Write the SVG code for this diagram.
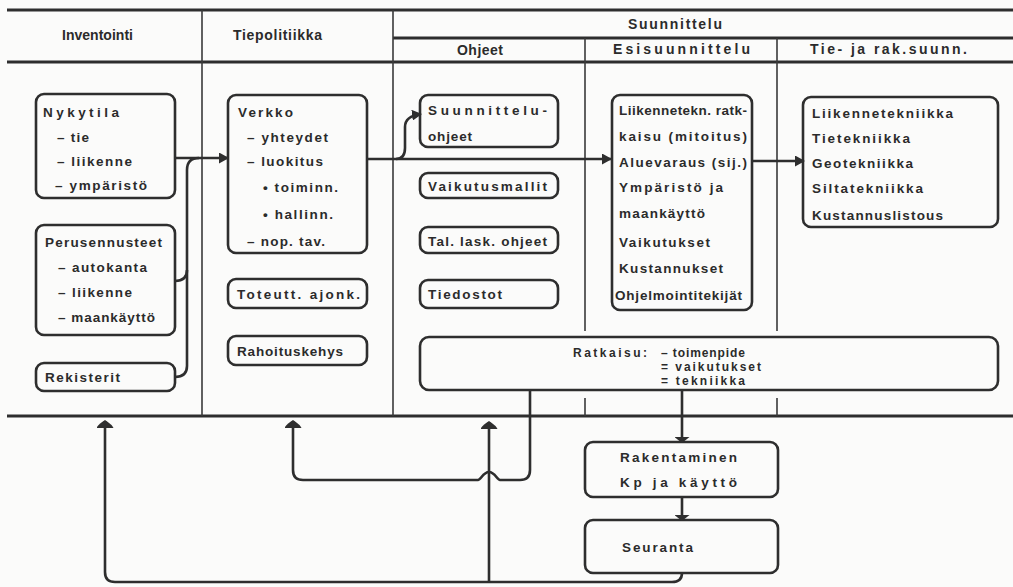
<svg xmlns="http://www.w3.org/2000/svg" width="1013" height="587" viewBox="0 0 1013 587">
<defs>
<style>
.bg{fill:#fbfbfa}
.hl{stroke:#2e2e2e;stroke-width:3;fill:none}
.vl{stroke:#3a3a3a;stroke-width:1.6;fill:none}
.box{fill:none;stroke:#2e2e2e;stroke-width:2.6}
.c{fill:none;stroke:#2e2e2e;stroke-width:2.6}
.h{font-family:"Liberation Sans",Arial,sans-serif;font-weight:bold;font-size:14px;fill:#2b2b2b}
.t{font-family:"Liberation Sans",Arial,sans-serif;font-weight:bold;font-size:13.5px;fill:#2b2b2b}
.s{font-family:"Liberation Sans",Arial,sans-serif;font-weight:bold;font-size:12px;fill:#2b2b2b}
</style>
<marker id="arr" markerUnits="userSpaceOnUse" markerWidth="10" markerHeight="11" refX="9" refY="5.5" orient="auto">
<path d="M0,0 L10,5.5 L0,11 Z" fill="#2e2e2e"/>
</marker>
<marker id="arrW" markerUnits="userSpaceOnUse" markerWidth="8" markerHeight="17" refX="7" refY="8.5" orient="auto">
<path d="M0,0 Q3,1 8,8.5 Q3,16 0,17 Z" fill="#2e2e2e"/>
</marker>
<marker id="arrD" markerUnits="userSpaceOnUse" markerWidth="6" markerHeight="15" refX="5" refY="7.5" orient="auto">
<path d="M0,0 L6,7.5 L0,15 Z" fill="#2e2e2e"/>
</marker>
</defs>
<rect class="bg" x="0" y="0" width="1013" height="587"/>

<g id="frame">
<line class="hl" x1="7" y1="10" x2="1013" y2="10"/>
<line class="hl" x1="393" y1="38" x2="1013" y2="38"/>
<line class="hl" x1="7" y1="62" x2="1013" y2="62"/>
<line class="hl" x1="7" y1="416" x2="1013" y2="416"/>
<line class="vl" x1="202" y1="10" x2="202" y2="416"/>
<line class="vl" x1="393" y1="10" x2="393" y2="416"/>
<line class="vl" x1="585" y1="38" x2="585" y2="331"/>
<line class="vl" x1="777" y1="38" x2="777" y2="331"/>
<line class="vl" x1="585" y1="398" x2="585" y2="416"/>
<line class="vl" x1="777" y1="398" x2="777" y2="416"/>
<text class="h" x="62" y="40" textLength="71" lengthAdjust="spacing">Inventointi</text>
<text class="h" x="233" y="40" textLength="89" lengthAdjust="spacing">Tiepolitiikka</text>
<text class="h" x="628" y="29" textLength="94" lengthAdjust="spacing">Suunnittelu</text>
<text class="h" x="457" y="55" textLength="46" lengthAdjust="spacing">Ohjeet</text>
<text class="h" x="613" y="54" textLength="137" lengthAdjust="spacing">Esisuunnittelu</text>
<text class="h" x="810" y="54" textLength="157" lengthAdjust="spacing">Tie- ja rak.suunn.</text>
</g>

<g id="nykytila">
<rect class="box" x="36" y="94" width="139" height="104" rx="8"/>
<text class="t" x="43" y="117" textLength="76" lengthAdjust="spacing">Nykytila</text>
<text class="t" x="57" y="142" textLength="32" lengthAdjust="spacing">– tie</text>
<text class="t" x="57" y="166" textLength="75" lengthAdjust="spacing">– liikenne</text>
<text class="t" x="55" y="190" textLength="92" lengthAdjust="spacing">– ympäristö</text>
</g>
<g id="perusennusteet">
<rect class="box" x="36" y="225" width="139" height="110" rx="8"/>
<text class="t" x="45" y="247" textLength="117" lengthAdjust="spacing">Perusennusteet</text>
<text class="t" x="58" y="272" textLength="89" lengthAdjust="spacing">– autokanta</text>
<text class="t" x="58" y="297" textLength="74" lengthAdjust="spacing">– liikenne</text>
<text class="t" x="58" y="322" textLength="97" lengthAdjust="spacing">– maankäyttö</text>
</g>
<g id="rekisterit">
<rect class="box" x="36" y="363" width="139" height="28" rx="8"/>
<text class="t" x="45" y="382" textLength="75" lengthAdjust="spacing">Rekisterit</text>
</g>

<g id="verkko">
<rect class="box" x="228" y="95" width="139" height="158" rx="8"/>
<text class="t" x="238" y="117" textLength="55" lengthAdjust="spacing">Verkko</text>
<text class="t" x="247" y="142" textLength="81" lengthAdjust="spacing">– yhteydet</text>
<text class="t" x="247" y="166" textLength="76" lengthAdjust="spacing">– luokitus</text>
<text class="t" x="263" y="192" textLength="75" lengthAdjust="spacing">• toiminn.</text>
<text class="t" x="263" y="219" textLength="70" lengthAdjust="spacing">• hallinn.</text>
<text class="t" x="247" y="246" textLength="78" lengthAdjust="spacing">– nop. tav.</text>
</g>
<g id="toteutt">
<rect class="box" x="228" y="279" width="139" height="29" rx="8"/>
<text class="t" x="237" y="299" textLength="123" lengthAdjust="spacing">Toteutt. ajonk.</text>
</g>
<g id="rahoitus">
<rect class="box" x="228" y="336" width="139" height="29" rx="8"/>
<text class="t" x="237" y="356" textLength="106" lengthAdjust="spacing">Rahoituskehys</text>
</g>

<g id="suunnitteluohjeet">
<rect class="box" x="420" y="95" width="138" height="52" rx="8"/>
<text class="t" x="428" y="115" textLength="119" lengthAdjust="spacing">Suunnittelu-</text>
<text class="t" x="428" y="141" textLength="44" lengthAdjust="spacing">ohjeet</text>
</g>
<g id="vaikutusmallit">
<rect class="box" x="420" y="173" width="138" height="25" rx="8"/>
<text class="t" x="428" y="191" textLength="119" lengthAdjust="spacing">Vaikutusmallit</text>
</g>
<g id="tallask">
<rect class="box" x="420" y="227" width="138" height="26" rx="8"/>
<text class="t" x="428" y="246" textLength="119" lengthAdjust="spacing">Tal. lask. ohjeet</text>
</g>
<g id="tiedostot">
<rect class="box" x="420" y="280" width="138" height="28" rx="8"/>
<text class="t" x="428" y="299" textLength="74" lengthAdjust="spacing">Tiedostot</text>
</g>

<g id="esisuunnittelu">
<rect class="box" x="612" y="95" width="140" height="215" rx="8"/>
<text class="t" x="619" y="115" textLength="128" lengthAdjust="spacing">Liikennetekn. ratk-</text>
<text class="t" x="619" y="141" textLength="128" lengthAdjust="spacing">kaisu (mitoitus)</text>
<text class="t" x="619" y="167" textLength="128" lengthAdjust="spacing">Aluevaraus (sij.)</text>
<text class="t" x="619" y="192" textLength="104" lengthAdjust="spacing">Ympäristö ja</text>
<text class="t" x="619" y="218" textLength="86" lengthAdjust="spacing">maankäyttö</text>
<text class="t" x="619" y="247" textLength="91" lengthAdjust="spacing">Vaikutukset</text>
<text class="t" x="619" y="273" textLength="104" lengthAdjust="spacing">Kustannukset</text>
<text class="t" x="615" y="300" textLength="127" lengthAdjust="spacing">Ohjelmointitekijät</text>
</g>

<g id="tiejarak">
<rect class="box" x="803" y="97" width="195" height="130" rx="8"/>
<text class="t" x="812" y="118" textLength="141" lengthAdjust="spacing">Liikennetekniikka</text>
<text class="t" x="812" y="143" textLength="98" lengthAdjust="spacing">Tietekniikka</text>
<text class="t" x="812" y="168" textLength="101" lengthAdjust="spacing">Geotekniikka</text>
<text class="t" x="812" y="193" textLength="111" lengthAdjust="spacing">Siltatekniikka</text>
<text class="t" x="812" y="220" textLength="131" lengthAdjust="spacing">Kustannuslistous</text>
</g>

<g id="ratkaisu">
<rect class="box" x="420" y="337" width="578" height="53" rx="9"/>
<text class="s" x="573" y="357" textLength="74" lengthAdjust="spacing">Ratkaisu:</text>
<text class="s" x="661" y="357" textLength="84" lengthAdjust="spacing">– toimenpide</text>
<text class="s" x="661" y="371" textLength="100" lengthAdjust="spacing">= vaikutukset</text>
<text class="s" x="661" y="385" textLength="84" lengthAdjust="spacing">= tekniikka</text>
</g>

<g id="rakentaminen">
<rect class="box" x="585" y="442" width="193" height="55" rx="8"/>
<text class="t" x="620" y="462" textLength="117" lengthAdjust="spacing">Rakentaminen</text>
<text class="t" x="620" y="487" textLength="117" lengthAdjust="spacing">Kp ja käyttö</text>
</g>
<g id="seuranta">
<rect class="box" x="585" y="520" width="193" height="53" rx="8"/>
<text class="t" x="622" y="552" textLength="71" lengthAdjust="spacing">Seuranta</text>
</g>

<g id="connectors">
<path class="c" d="M175,158 L228,158" marker-end="url(#arr)"/>
<path class="c" d="M175,281 Q187,281 187,270 L187,170 Q187,158 199,158"/>
<path class="c" d="M175,377 Q187,377 187,366 L187,270"/>
<path class="c" d="M367,159 L611,159" marker-end="url(#arr)"/>
<path class="c" d="M396,159 Q405,159 405,148 L405,127 Q405,116 421,114" marker-end="url(#arr)"/>
<path class="c" d="M752,161 L804,161" marker-end="url(#arr)"/>
<path class="c" d="M682,390 L682,442" marker-end="url(#arrD)"/>
<path class="c" d="M682,497 L682,520" marker-end="url(#arrD)"/>
<path class="c" d="M682,573 Q682,582 672,582 L115,582 Q105,582 105,572 L105,421" marker-end="url(#arrW)"/>
<path class="c" d="M489,582 L489,422" marker-end="url(#arrW)"/>
<path class="c" d="M530,390 L530,470 Q530,480 520,480 L500,480 C497,480 495,472 489,472 C483,472 481,480 478,480 L303,480 Q293,480 293,470 L293,421" marker-end="url(#arrW)"/>
</g>
</svg>
